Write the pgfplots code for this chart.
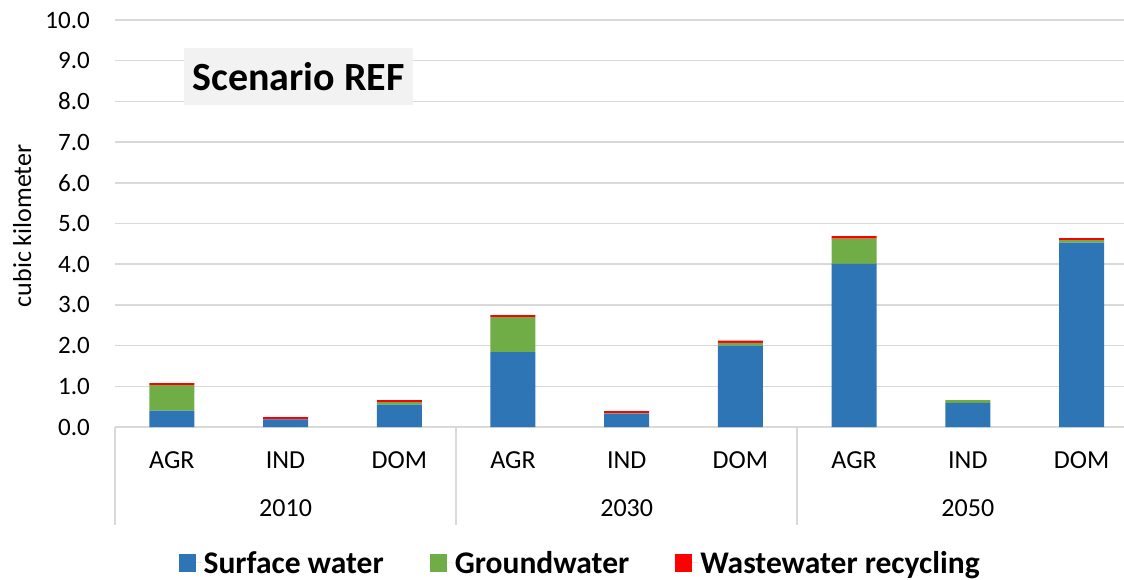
\documentclass[border=0pt]{standalone}
\usepackage{fontspec}
\setmainfont{Carlito}
\usepackage{pgfplots}
\pgfplotsset{compat=1.18}
\definecolor{cblue}{HTML}{2E75B6}
\definecolor{cgreen}{HTML}{70AD47}
\definecolor{cred}{HTML}{FF0000}
\definecolor{cgrid}{HTML}{D9D9D9}
\definecolor{cbox}{HTML}{F2F2F2}
\begin{document}
\begin{tikzpicture}[x=1pt,y=1pt]
\useasboundingbox (0,0) rectangle (1124,579);
\begin{axis}[
  at={(115pt,152pt)}, anchor=south west,
  scale only axis, width=1009pt, height=407pt,
  xmin=-0.5, xmax=8.374, ymin=0, ymax=10,
  ybar stacked, bar width=45pt,
  ytick={0,1,...,10},
  xtick={0,...,8},
  xticklabels={AGR,IND,DOM,AGR,IND,DOM,AGR,IND,DOM},
  major tick length=0pt,
  axis line style={draw=none},
  ymajorgrids, grid style={cgrid, line width=1.6pt},
  clip=false,
  /pgf/number format/.cd, fixed, fixed zerofill, precision=1, assume math mode=true,
  /pgfplots/.cd,
  yticklabel style={font=\fontsize{25}{28}\selectfont, anchor=east, inner sep=0pt, xshift=-25pt},
  xticklabel style={font=\fontsize{26}{28}\selectfont, anchor=center, inner sep=0pt, yshift=-33pt},
  ylabel={cubic kilometer},
  ylabel style={font=\fontsize{26}{28}\selectfont, at={(axis description cs:-0.092,0.494)}, anchor=center},
  legend style={at={(axis description cs:0.461,-0.334)}, anchor=center, draw=none, fill=none,
    font=\fontsize{31.5}{34}\selectfont\bfseries, legend columns=-1,
    /tikz/every even column/.append style={column sep=44pt},
    nodes={inner sep=2pt}},
  legend image code/.code={\fill[#1] (0pt,-9pt) rectangle (17pt,9pt); \path (0pt,0pt) -- (23pt,0pt);},
]
\addplot[fill=cblue, draw=none] coordinates {(0,0.40) (1,0.19) (2,0.55) (3,1.84) (4,0.33) (5,2.00) (6,4.01) (7,0.59) (8,4.53)};
\addplot[fill=cgreen, draw=none] coordinates {(0,0.63) (1,0.00) (2,0.06) (3,0.86) (4,0.01) (5,0.07) (6,0.62) (7,0.07) (8,0.06)};
\addplot[fill=cred, draw=none] coordinates {(0,0.05) (1,0.05) (2,0.05) (3,0.05) (4,0.05) (5,0.05) (6,0.06) (7,0.00) (8,0.05)};
\legend{Surface water, Groundwater, Wastewater recycling}
\draw[cgrid, line width=1.6pt] (axis cs:-0.5,0) -- ++(0pt,-98pt);
\draw[cgrid, line width=1.6pt] (axis cs:2.5,0) -- ++(0pt,-98pt);
\draw[cgrid, line width=1.6pt] (axis cs:5.5,0) -- ++(0pt,-98pt);
\node[font=\fontsize{26}{28}\selectfont, anchor=center] at (axis cs:1,0) [yshift=-81pt] {2010};
\node[font=\fontsize{26}{28}\selectfont, anchor=center] at (axis cs:4,0) [yshift=-81pt] {2030};
\node[font=\fontsize{26}{28}\selectfont, anchor=center] at (axis cs:7,0) [yshift=-81pt] {2050};
\end{axis}
\node[fill=cbox, minimum width=229pt, minimum height=57pt, inner sep=0pt, font=\fontsize{40}{44}\selectfont\bfseries] at (298.5,502.5) {Scenario REF};
\end{tikzpicture}
\end{document}
